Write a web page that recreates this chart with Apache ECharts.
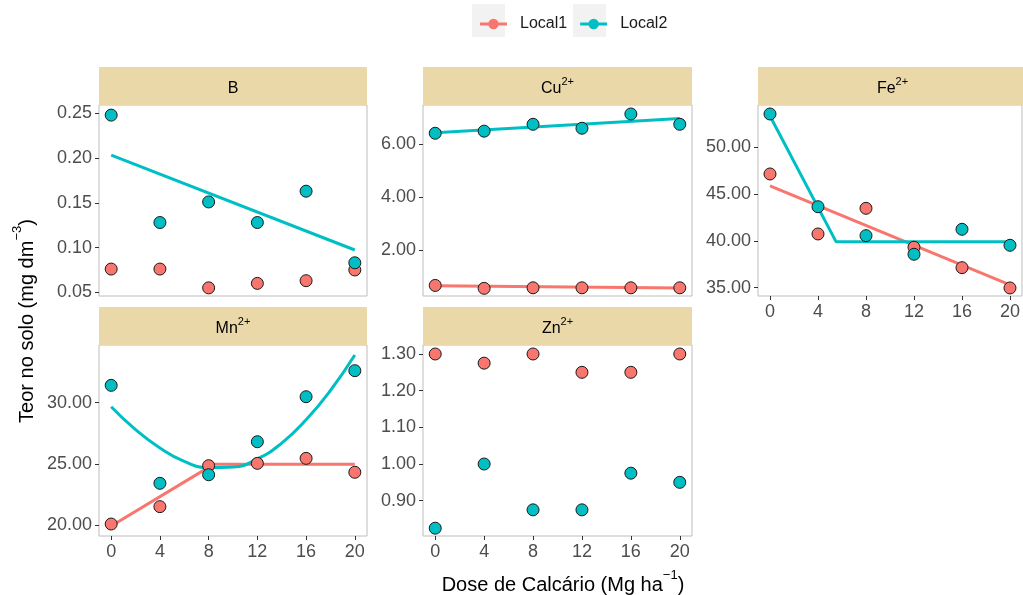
<!DOCTYPE html>
<html>
<head>
<meta charset="utf-8">
<script src="https://cdn.jsdelivr.net/npm/echarts@6/dist/echarts.min.js"></script>
<style>
  html, body { margin: 0; padding: 0; background: #ffffff; }
  #chart { width: 1023px; height: 595px; }
</style>
</head>
<body>
<div id="chart"></div>
<script>
// ---------------- data ----------------
const doses = [0, 4, 8, 12, 16, 20];
const seriesNames = ['Local1', 'Local2'];

const bLocal1 = [0.076, 0.076, 0.055, 0.060, 0.063, 0.075];
const bLocal2 = [0.248, 0.128, 0.151, 0.128, 0.163, 0.083];
const cuLocal1 = [0.66, 0.55, 0.57, 0.57, 0.57, 0.57];
const cuLocal2 = [6.42, 6.50, 6.76, 6.61, 7.15, 6.76];
const feLocal1 = [47.15, 40.74, 43.48, 39.32, 37.14, 34.97];
const feLocal2 = [53.56, 43.65, 40.56, 38.57, 41.24, 39.53];
const mnLocal1 = [20.08, 21.50, 24.85, 25.04, 25.45, 24.31];
const mnLocal2 = [31.42, 23.41, 24.11, 26.81, 30.49, 32.62];
const znLocal1 = [1.30, 1.275, 1.30, 1.25, 1.25, 1.30];
const znLocal2 = [0.825, 1.00, 0.875, 0.875, 0.975, 0.95];

// fitted lines
const bFitX = [0, 20];
const bFitLocal2 = [0.2034, 0.0973];
const cuFitX = [0, 20];
const cuFitLocal1 = [0.65, 0.56];
const cuFitLocal2 = [6.44, 6.98];
const feFitX1 = [0, 20];
const feFitLocal1 = [45.87, 35.29];
const feFitX2 = [0, 5.5, 20];
const feFitLocal2 = [53.34, 39.92, 39.92];
const mnFitX1 = [0, 8.4, 20];
const mnFitLocal1 = [19.92, 24.96, 24.96];
const mnFitX2 = [0, 2, 4, 6, 8, 10, 12, 14, 16, 18, 20];
const mnFitLocal2 = [29.67, 27.8, 26.3, 25.2, 24.7, 24.75, 25.4, 26.7, 28.6, 31.0, 33.9];

// tick labels
const xTicks = [0, 4, 8, 12, 16, 20];
const bTicks = [0.05, 0.10, 0.15, 0.20, 0.25];
const cuTicks = [2, 4, 6];
const feTicks = [35, 40, 45, 50];
const mnTicks = [20, 25, 30];
const znTicks = [0.90, 1.00, 1.10, 1.20, 1.30];

// ---------------- layout / style ----------------
const FONT = '"Liberation Sans", Arial, Helvetica, sans-serif';
const COLORS = { Local1: '#F8766D', Local2: '#00BFC4' };
const STRIP_H = 38;
const STRIP_COLOR = '#EAD8A8';

const pair = (xs, ys) => xs.map((x, i) => [x, ys[i]]);

const panels = [
  { title: '{b|B}', box: [99, 105, 268, 191], y: [0.0459, 0.2593], ticks: bTicks,
    l1: bLocal1, l2: bLocal2, fits: [['Local2', bFitX, bFitLocal2]], showX: false },
  { title: '{b|Cu}{s|2+}', box: [423, 105, 269, 191], y: [0.26, 7.49], ticks: cuTicks,
    l1: cuLocal1, l2: cuLocal2, fits: [['Local1', cuFitX, cuFitLocal1], ['Local2', cuFitX, cuFitLocal2]], showX: false },
  { title: '{b|Fe}{s|2+}', box: [758, 105, 269, 191], y: [34.11, 54.52], ticks: feTicks,
    l1: feLocal1, l2: feLocal2, fits: [['Local1', feFitX1, feFitLocal1], ['Local2', feFitX2, feFitLocal2]], showX: true },
  { title: '{b|Mn}{s|2+}', box: [99, 345, 268, 191], y: [19.10, 34.72], ticks: mnTicks,
    l1: mnLocal1, l2: mnLocal2, fits: [['Local1', mnFitX1, mnFitLocal1], ['Local2', mnFitX2, mnFitLocal2, true]], showX: true },
  { title: '{b|Zn}{s|2+}', box: [423, 345, 269, 191], y: [0.8037, 1.3245], ticks: znTicks,
    l1: znLocal1, l2: znLocal2, fits: [], showX: true }
];

const richTitle = {
  b: { fontSize: 16, fontFamily: FONT, color: '#1a1a1a', lineHeight: 22, verticalAlign: 'bottom' },
  s: { fontSize: 11, fontFamily: FONT, color: '#1a1a1a', lineHeight: 11, verticalAlign: 'top', padding: [1, 0, 0, 0] }
};

const grid = [], xAxis = [], yAxis = [], series = [], graphic = [];

panels.forEach((p, i) => {
  const [left, top, w, h] = p.box;
  grid.push({ left: left, top: top, width: w, height: h, show: true,
    borderColor: '#BDBDBD', borderWidth: 1, backgroundColor: '#ffffff', containLabel: false });
  xAxis.push({
    type: 'value', gridIndex: i, min: -1, max: 21, position: 'bottom',
    axisLine: { show: false, onZero: false },
    axisTick: { show: p.showX, length: 4, lineStyle: { color: '#333333' }, customValues: xTicks },
    axisLabel: { show: p.showX, margin: 7, fontSize: 18, color: '#4D4D4D', fontFamily: FONT, customValues: xTicks },
    splitLine: { show: false }
  });
  yAxis.push({
    type: 'value', gridIndex: i, min: p.y[0], max: p.y[1], position: 'left',
    axisLine: { show: false, onZero: false },
    axisTick: { show: true, length: 4, lineStyle: { color: '#333333' }, customValues: p.ticks },
    axisLabel: { show: true, margin: 7, fontSize: 18, color: '#4D4D4D', fontFamily: FONT,
      customValues: p.ticks, formatter: v => Number(v).toFixed(2) },
    splitLine: { show: false }
  });
  // fitted lines
  p.fits.forEach(f => {
    series.push({
      name: f[0], type: 'line', xAxisIndex: i, yAxisIndex: i,
      data: pair(f[1], f[2]), showSymbol: false, symbol: 'none', smooth: !!f[3],
      lineStyle: { color: COLORS[f[0]], width: 3 }, itemStyle: { color: COLORS[f[0]] },
      z: 2, silent: true
    });
  });
  // points
  [['Local1', p.l1], ['Local2', p.l2]].forEach(([nm, vals]) => {
    series.push({
      name: nm, type: 'scatter', xAxisIndex: i, yAxisIndex: i,
      data: pair(doses, vals), symbol: 'circle', symbolSize: 12,
      itemStyle: { color: COLORS[nm], borderColor: '#1a1a1a', borderWidth: 1, opacity: 1 },
      z: 3
    });
  });
  // strip
  graphic.push({
    type: 'rect', left: left, top: top - STRIP_H, z: 1,
    shape: { width: w, height: STRIP_H }, style: { fill: STRIP_COLOR }
  });
  graphic.push({
    type: 'text', z: 2, x: left + w / 2, y: top - STRIP_H / 2,
    style: { text: p.title, rich: richTitle, align: 'center', verticalAlign: 'middle' }
  });
});

// legend key backgrounds
[472, 573].forEach(x => {
  graphic.push({ type: 'rect', left: x, top: 4, z: 0, shape: { width: 33, height: 33 }, style: { fill: '#F2F2F2' } });
});

// axis titles
graphic.push({
  type: 'text', z: 5, x: 563, y: 582,
  style: {
    text: '{b|Dose de Calcário (Mg ha}{s|−1}{b|)}', align: 'center', verticalAlign: 'middle',
    rich: {
      b: { fontSize: 20, fontFamily: FONT, color: '#1a1a1a', lineHeight: 26, verticalAlign: 'bottom' },
      s: { fontSize: 13, fontFamily: FONT, color: '#1a1a1a', lineHeight: 13, verticalAlign: 'top' }
    }
  }
});
graphic.push({
  type: 'text', z: 5, x: 24, y: 321, rotation: Math.PI / 2,
  style: {
    text: '{b|Teor no solo (mg dm}{s|−3}{b|)}', align: 'center', verticalAlign: 'middle',
    rich: {
      b: { fontSize: 20, fontFamily: FONT, color: '#1a1a1a', lineHeight: 26, verticalAlign: 'bottom' },
      s: { fontSize: 13, fontFamily: FONT, color: '#1a1a1a', lineHeight: 13, verticalAlign: 'top' }
    }
  }
});

const legendIcon = 'path://M0,5H26V8H0Z M8,6.5A5,5 0 1,1 18,6.5A5,5 0 1,1 8,6.5Z';

const option = {
  backgroundColor: '#ffffff',
  animation: false,
  legend: {
    data: seriesNames.map(n => ({ name: n, icon: legendIcon, itemStyle: { color: COLORS[n], borderWidth: 0 } })),
    left: 475, top: 11, itemWidth: 27, itemHeight: 13, itemGap: 13,
    textStyle: { fontSize: 16, fontFamily: FONT, color: '#1a1a1a', padding: [0, 0, 0, 8] },
    selectedMode: false
  },
  grid: grid,
  xAxis: xAxis,
  yAxis: yAxis,
  series: series,
  graphic: graphic
};

const chart = echarts.init(document.getElementById('chart'), null, { renderer: 'canvas' });
chart.setOption(option);
</script>
</body>
</html>
